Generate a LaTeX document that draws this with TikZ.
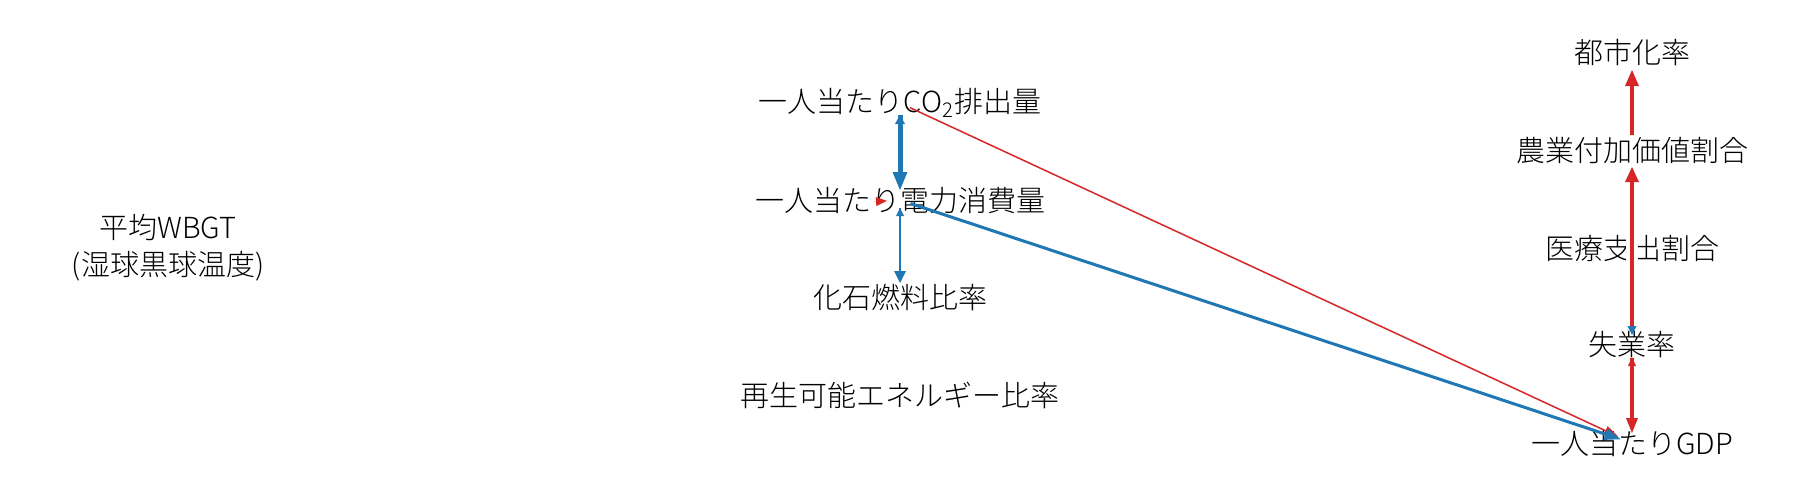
\documentclass[tikz,border=0pt]{standalone}
\usepackage{fontspec}
\setmainfont{Noto Sans CJK JP}[UprightFont=* Light]
\usetikzlibrary{arrows.meta}
\definecolor{tabblue}{HTML}{1F77B4}
\definecolor{tabred}{HTML}{D62728}
\begin{document}
\begin{tikzpicture}[x=0.5pt,y=-0.5pt,
  lbl/.style={inner sep=0pt, font=\fontsize{14.5}{18.5}\selectfont, align=center},
  bl/.style={draw=tabblue},
  rd/.style={draw=tabred},
  halo/.style={preaction={draw=white,line width=#1,-}}]
\useasboundingbox[fill=white] (0,0) rectangle (1800,500);
% nodes
\node[lbl] (wbgt)   at (168,248) {平均WBGT\\(湿球黒球温度)};
\node[lbl] (co2)    at (900,103) {一人当たりCO\textsubscript{2}排出量};
\node[lbl] (elec)   at (900,200) {一人当たり電力消費量};
\node[lbl] (fossil) at (900,297) {化石燃料比率};
\node[lbl] (renew)  at (900,395) {再生可能エネルギー比率};
\node[lbl] (urban)  at (1632,52) {都市化率};
\node[lbl] (agri)   at (1632,150) {農業付加価値割合};
\node[lbl] (med)    at (1632,249) {医療支出割合};
\node[lbl] (unemp)  at (1632,345) {失業率};
\node[lbl] (gdp)    at (1632,443) {一人当たりGDP};
% long diagonal edges
\draw[rd, line width=0.75pt, -{Triangle[length=7pt,width=5pt,line width=0pt]},
  shorten <=5.5pt, shorten >=7.6pt] (co2.center) -- (gdp.center);
\draw[bl, line width=1.5pt, -{Triangle[length=8pt,width=6pt,line width=0pt]},
  shorten <=5.5pt, shorten >=6pt] (elec.center) -- (gdp.center);
% WBGT -> electricity (head only)
\draw[rd, line width=0.1pt, -{Triangle[length=5.5pt,width=4.5pt,line width=0pt]},
  shorten <=354pt, shorten >=6.5pt] (wbgt.center) -- (elec.center);
% middle column
\draw[bl, line width=1pt, -{Triangle[length=4.5pt,width=5pt,line width=0pt]},
  shorten <=38pt, shorten >=6pt] (elec.center) -- (co2.center);
\draw[bl, line width=2.5pt, -{Triangle[length=9pt,width=7.5pt,line width=0pt]},
  shorten <=6pt, shorten >=5pt] (co2.center) -- (elec.center);
\draw[bl, line width=1.25pt, -{Triangle[length=6pt,width=6pt,line width=0pt]},
  shorten <=4pt, shorten >=7pt] (elec.center) -- (fossil.center);
\draw[bl, line width=1pt, -{Triangle[length=4pt,width=4pt,line width=0pt]},
  shorten <=41pt, shorten >=4pt] (fossil.center) -- (elec.center);
% right column
\draw[rd, line width=2pt, -{Triangle[length=8pt,width=7pt,line width=0pt]},
  shorten <=7.5pt, shorten >=9pt] (agri.center) -- (urban.center);
\draw[rd, halo=6pt, line width=2pt, -{Triangle[length=7.5pt,width=7pt,line width=0pt]},
  shorten <=7.5pt, shorten >=8.5pt] (unemp.center) -- (agri.center);
\draw[bl, line width=1pt, -{Triangle[length=4.5pt,width=4.5pt,line width=0pt]},
  shorten <=39pt, shorten >=5pt] (med.center) -- (unemp.center);
\draw[rd, line width=2pt, -{Triangle[length=7.5pt,width=6pt,line width=0pt]},
  shorten <=6.5pt, shorten >=5pt] (unemp.center) -- (gdp.center);
\draw[rd, line width=1pt, -{Triangle[length=4.5pt,width=4pt,line width=0pt]},
  shorten <=39pt, shorten >=6pt] (gdp.center) -- (unemp.center);
\end{tikzpicture}
\end{document}
